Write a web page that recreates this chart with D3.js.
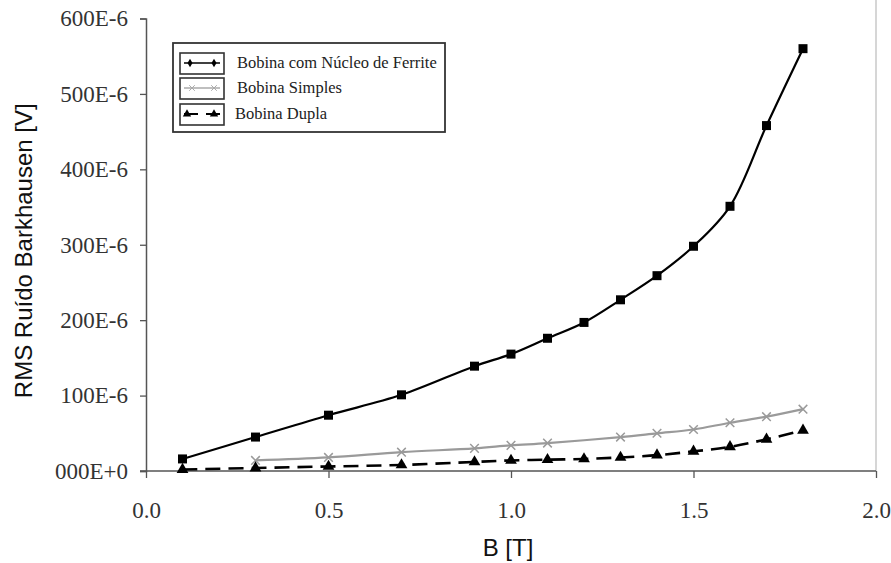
<!DOCTYPE html>
<html>
<head>
<meta charset="utf-8">
<script src="https://cdn.jsdelivr.net/npm/d3@7"></script>
<style>
  body { margin: 0; background: #fff; }
  svg { display: block; }
</style>
</head>
<body>
<div id="chart"></div>
<script>
// B [T] values and RMS noise [V]
var ferriteB = [0.1, 0.3, 0.5, 0.7, 0.9, 1.0, 1.1, 1.2, 1.3, 1.4, 1.5, 1.6, 1.7, 1.8];
var ferriteV = [16e-6, 45e-6, 74e-6, 101e-6, 139e-6, 155e-6, 176e-6, 197e-6, 227e-6, 259e-6, 298e-6, 351e-6, 458e-6, 560e-6];

var simplesB = [0.3, 0.5, 0.7, 0.9, 1.0, 1.1, 1.3, 1.4, 1.5, 1.6, 1.7, 1.8];
var simplesV = [14e-6, 18e-6, 25e-6, 30e-6, 34e-6, 37e-6, 45e-6, 50e-6, 55e-6, 64e-6, 72e-6, 82e-6];

var duplaB = [0.1, 0.3, 0.5, 0.7, 0.9, 1.0, 1.1, 1.2, 1.3, 1.4, 1.5, 1.6, 1.7, 1.8];
var duplaV = [2e-6, 4e-6, 6e-6, 8e-6, 12e-6, 14e-6, 15e-6, 16e-6, 18e-6, 21e-6, 26e-6, 32e-6, 42e-6, 54e-6];

var xTicks = [0, 0.5, 1.0, 1.5, 2.0];
var yTicks = [0, 100e-6, 200e-6, 300e-6, 400e-6, 500e-6, 600e-6];

var seriesNames = ["Bobina com Núcleo de Ferrite", "Bobina Simples", "Bobina Dupla"];

var W = 891, H = 563;
var margin = { left: 146, right: 15, top: 18.5, bottom: 92 };
var width = W - margin.left - margin.right;
var height = H - margin.top - margin.bottom;

var svg = d3.select("#chart").append("svg")
  .attr("width", W)
  .attr("height", H);

var g = svg.append("g")
  .attr("transform", "translate(" + margin.left + "," + margin.top + ")");

var x = d3.scaleLinear().domain([0, 2]).range([0, width]);
var y = d3.scaleLinear().domain([0, 600e-6]).range([height, 0]);

// light frame line on the right
g.append("line")
  .attr("x1", width).attr("x2", width)
  .attr("y1", -margin.top).attr("y2", height)
  .attr("stroke", "#c8c8c8").attr("stroke-width", 1.5);

var serif = "'Liberation Serif', 'Times New Roman', serif";
var sans = "'Liberation Sans', Arial, sans-serif";

var xAxis = d3.axisBottom(x)
  .tickValues(xTicks)
  .tickFormat(d3.format(".1f"))
  .tickSizeOuter(0)
  .tickSize(7)
  .tickPadding(24);

var yAxis = d3.axisLeft(y)
  .tickValues(yTicks)
  .tickFormat(function (d) {
    var v = Math.round(d * 1e6);
    return d3.format("03d")(v) + (v === 0 ? "E+0" : "E-6");
  })
  .tickSizeOuter(0)
  .tickSize(6)
  .tickPadding(12);

var xg = g.append("g")
  .attr("transform", "translate(0," + height + ")")
  .call(xAxis);

var yg = g.append("g").call(yAxis);

[xg, yg].forEach(function (ax) {
  ax.select(".domain").attr("stroke", "#555").attr("stroke-width", 1.5);
  ax.selectAll(".tick line").attr("stroke", "#555").attr("stroke-width", 1.3);
  ax.selectAll(".tick text")
    .attr("fill", "#333")
    .style("font-family", serif)
    .style("font-size", "23px");
});
// x axis line starts at the y ticks
xg.select(".domain").attr("d", "M-6,0H" + width);

// axis titles
svg.append("text")
  .attr("x", margin.left + width / 2 - 3)
  .attr("y", 556)
  .attr("text-anchor", "middle")
  .style("font-family", sans)
  .style("font-size", "24px")
  .attr("fill", "#111")
  .text("B [T]");

svg.append("text")
  .attr("transform", "translate(32," + (margin.top + height / 2 + 6) + ") rotate(-90)")
  .attr("text-anchor", "middle")
  .style("font-family", sans)
  .style("font-size", "24px")
  .attr("fill", "#111")
  .text("RMS Ruído Barkhausen [V]");

function pts(bs, vs) {
  return bs.map(function (b, i) { return { b: b, v: vs[i] }; });
}

var line = d3.line()
  .x(function (d) { return x(d.b); })
  .y(function (d) { return y(d.v); })
  .curve(d3.curveCatmullRom.alpha(0.5));

var ferrite = pts(ferriteB, ferriteV);
var simples = pts(simplesB, simplesV);
var dupla = pts(duplaB, duplaV);

// Bobina Simples (gray, x markers)
g.append("path")
  .datum(simples)
  .attr("d", line)
  .attr("fill", "none")
  .attr("stroke", "#9a9a9a")
  .attr("stroke-width", 2.2);

var crossSym = d3.symbol().type(d3.symbolX).size(50);
g.selectAll(".simples-pt")
  .data(simples).enter()
  .append("path")
  .attr("class", "simples-pt")
  .attr("transform", function (d) { return "translate(" + x(d.b) + "," + y(d.v) + ")"; })
  .attr("d", crossSym)
  .attr("fill", "none")
  .attr("stroke", "#9a9a9a")
  .attr("stroke-width", 1.5);

// Bobina Dupla (dashed, triangles)
g.append("path")
  .datum(dupla)
  .attr("d", line)
  .attr("fill", "none")
  .attr("stroke", "#000")
  .attr("stroke-width", 2.6)
  .attr("stroke-dasharray", "15,8");

var triSym = d3.symbol().type(d3.symbolTriangle).size(60);
g.selectAll(".dupla-pt")
  .data(dupla).enter()
  .append("path")
  .attr("class", "dupla-pt")
  .attr("transform", function (d) { return "translate(" + x(d.b) + "," + y(d.v) + ")"; })
  .attr("d", triSym)
  .attr("fill", "#000");

// Bobina com Núcleo de Ferrite (black, squares)
g.append("path")
  .datum(ferrite)
  .attr("d", line)
  .attr("fill", "none")
  .attr("stroke", "#000")
  .attr("stroke-width", 2.2);

g.selectAll(".ferrite-pt")
  .data(ferrite).enter()
  .append("rect")
  .attr("class", "ferrite-pt")
  .attr("x", function (d) { return x(d.b) - 4.5; })
  .attr("y", function (d) { return y(d.v) - 4.5; })
  .attr("width", 9)
  .attr("height", 9)
  .attr("fill", "#000");

// legend
var leg = svg.append("g").attr("transform", "translate(173,43)");
leg.append("rect")
  .attr("width", 272).attr("height", 89)
  .attr("fill", "#fff")
  .attr("stroke", "#333").attr("stroke-width", 1.8);

var rowY = [20, 45, 71];
seriesNames.forEach(function (name, i) {
  var row = leg.append("g").attr("transform", "translate(0," + rowY[i] + ")");
  row.append("rect")
    .attr("x", 7).attr("y", -10)
    .attr("width", 44).attr("height", 21)
    .attr("fill", "#fff")
    .attr("stroke", "#333").attr("stroke-width", 1.6);
  var ln = row.append("line")
    .attr("x1", 11).attr("x2", 47)
    .attr("y1", 0).attr("y2", 0);
  if (i === 0) {
    ln.attr("stroke", "#000").attr("stroke-width", 1.6);
    [17, 41].forEach(function (cx) {
      row.append("path")
        .attr("transform", "translate(" + cx + ",0)")
        .attr("d", d3.symbol().type(d3.symbolDiamond).size(22))
        .attr("fill", "#000");
    });
  } else if (i === 1) {
    ln.attr("stroke", "#aaa").attr("stroke-width", 1.4);
    [19, 41].forEach(function (cx) {
      row.append("path")
        .attr("transform", "translate(" + cx + ",0)")
        .attr("d", d3.symbol().type(d3.symbolX).size(22))
        .attr("fill", "none")
        .attr("stroke", "#aaa");
    });
  } else {
    ln.attr("stroke", "#000").attr("stroke-width", 2).attr("stroke-dasharray", "14,8");
    [14, 41].forEach(function (cx) {
      row.append("path")
        .attr("transform", "translate(" + cx + ",0)")
        .attr("d", d3.symbol().type(d3.symbolTriangle).size(30))
        .attr("fill", "#000");
    });
  }
  row.append("text")
    .attr("x", i === 2 ? 62 : 64)
    .attr("y", 5)
    .style("font-family", serif)
    .style("font-size", "16.5px")
    .attr("fill", "#222")
    .text(name);
});
</script>
</body>
</html>
